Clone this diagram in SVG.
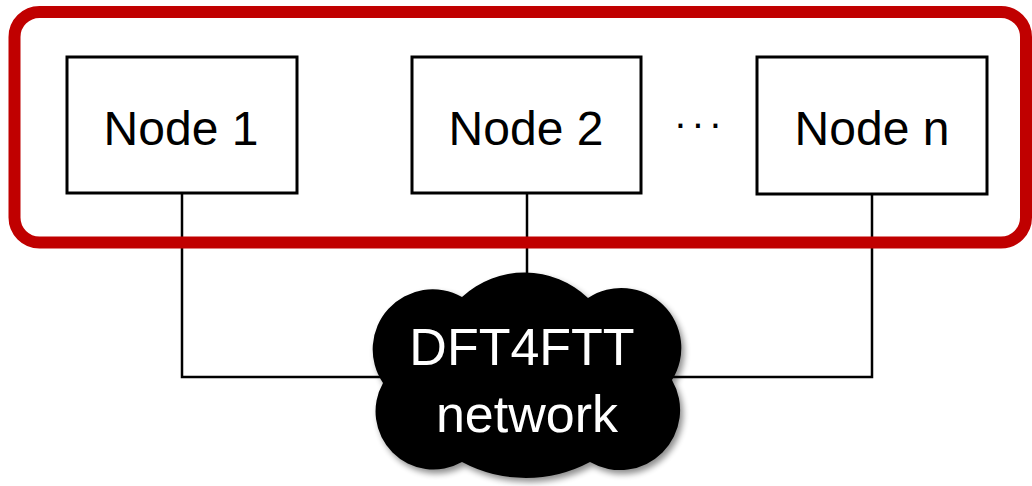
<svg xmlns="http://www.w3.org/2000/svg" width="1032" height="486" viewBox="0 0 1032 486">
  <style>
    .box { fill: #ffffff; stroke: #000000; stroke-width: 3; }
    .label { font-family: "Liberation Sans", Arial, sans-serif; font-size: 48px; fill: #000000; text-anchor: middle; }
    .cloud-label { font-family: "Liberation Sans", Arial, sans-serif; font-size: 52px; fill: #ffffff; text-anchor: middle; }
    .wire { fill: none; stroke: #000000; stroke-width: 2.5; }
  </style>
  <defs>
    <filter id="soft-shadow" x="-10%" y="-10%" width="125%" height="130%">
      <feGaussianBlur in="SourceAlpha" stdDeviation="3"/>
      <feOffset dx="3" dy="4" result="blur"/>
      <feComponentTransfer><feFuncA type="linear" slope="0.45"/></feComponentTransfer>
      <feMerge><feMergeNode/><feMergeNode in="SourceGraphic"/></feMerge>
    </filter>
  </defs>
  <rect width="1032" height="486" fill="#ffffff"/>

  <!-- connectors from each node down to the network -->
  <g id="connectors">
    <polyline class="wire" points="182,193 182,377 400,377"/>
    <polyline class="wire" points="872,194 872,377 660,377"/>
    <line class="wire" x1="527" y1="193" x2="527" y2="290"/>
  </g>

  <!-- node group frame -->
  <rect id="node-group" x="14.5" y="12" width="1011.5" height="230.5" rx="25" ry="25" fill="none" stroke="#c00000" stroke-width="12"/>

  <g id="node1">
    <rect class="box" x="67" y="57" width="230" height="136"/>
    <text class="label" x="181" y="145">Node 1</text>
  </g>
  <g id="node2">
    <rect class="box" x="412" y="57" width="229" height="136"/>
    <text class="label" x="526" y="145">Node 2</text>
  </g>
  <g id="ellipsis">
    <text x="700" y="137" font-family="Liberation Sans, Arial, sans-serif" font-size="40" fill="#000000" text-anchor="middle" letter-spacing="4.2">···</text>
  </g>
  <g id="noden">
    <rect class="box" x="757" y="57" width="230" height="137"/>
    <text class="label" x="872" y="145">Node n</text>
  </g>

  <g id="network">
    <path filter="url(#soft-shadow)" fill="#000000"
      d="M 383 383
         A 60 60 0 0 1 462 297
         A 92 92 0 0 1 588 298
         A 60 60 0 0 1 672 380
         A 60 60 0 0 1 590 462
         A 136 136 0 0 1 462 462
         A 58 58 0 0 1 383 383 Z"/>
    <text class="cloud-label" x="522" y="365">DFT4FTT</text>
    <text class="cloud-label" x="527" y="432" font-size="53">network</text>
  </g>
</svg>
